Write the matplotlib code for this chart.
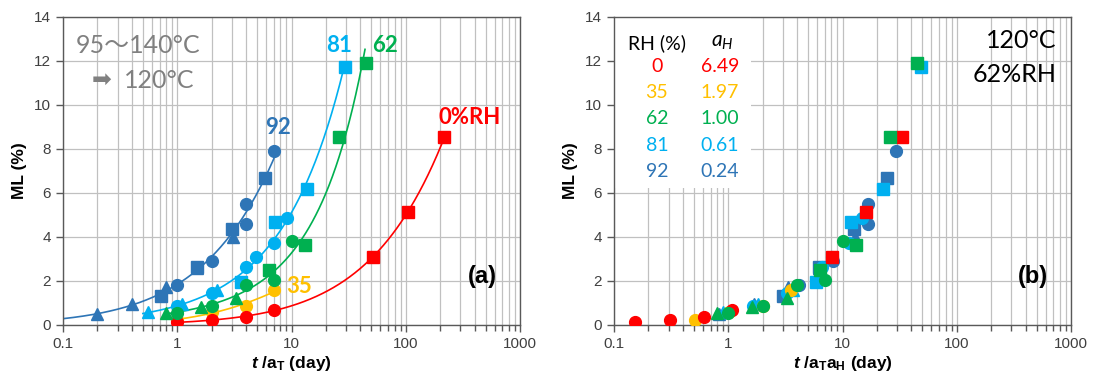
import numpy as np
import matplotlib
matplotlib.use('Agg')
import matplotlib.pyplot as plt
from matplotlib.patches import Rectangle
from matplotlib.ticker import FixedLocator, FixedFormatter, NullFormatter

plt.rcParams['font.family'] = ['Liberation Sans', 'DejaVu Sans']
plt.rcParams['mathtext.fontset'] = 'custom'
plt.rcParams['mathtext.rm'] = 'Liberation Sans:bold'
plt.rcParams['mathtext.bf'] = 'Liberation Sans:bold'
plt.rcParams['mathtext.it'] = 'Lato:italic'
plt.rcParams['mathtext.bfit'] = 'Liberation Sans:italic:bold'

# ---------------- data ----------------
rh_levels = ['0', '35', '62', '81', '92']
a_H = [6.49, 1.97, 1.00, 0.61, 0.24]
a_H_labels = ['6.49', '1.97', '1.00', '0.61', '0.24']
series_colors = ['#FF0000', '#FFC000', '#00B050', '#00B0F0', '#2E75B6']

# RH 0 %
rh0_circ_t = [1, 2, 4, 7]
rh0_circ_ml = [0.12, 0.22, 0.38, 0.70]
rh0_sq_t = [52, 104, 217]
rh0_sq_ml = [3.07, 5.12, 8.56]
# RH 35 %
rh35_circ_t = [1, 2, 4, 7]
rh35_circ_ml = [0.25, 0.60, 0.88, 1.58]
# RH 62 %
rh62_tri_t = [0.8, 1.6, 3.3]
rh62_tri_ml = [0.56, 0.80, 1.22]
rh62_circ_t = [1, 2, 4, 7, 10]
rh62_circ_ml = [0.55, 0.86, 1.82, 2.05, 3.80]
rh62_sq_t = [6.4, 13, 26, 45]
rh62_sq_ml = [2.50, 3.65, 8.53, 11.92]
# RH 81 %
rh81_tri_t = [0.55, 1.1, 2.25]
rh81_tri_ml = [0.58, 0.95, 1.60]
rh81_circ_t = [1, 2, 4, 4.9, 7, 9.1]
rh81_circ_ml = [0.86, 1.44, 2.65, 3.10, 3.74, 4.85]
rh81_sq_t = [3.6, 7.2, 13.8, 29.5]
rh81_sq_ml = [1.97, 4.70, 6.20, 11.74]
# RH 92 %
rh92_tri_t = [0.2, 0.4, 0.8, 1.5, 3.1]
rh92_tri_ml = [0.50, 0.95, 1.72, 2.60, 4.00]
rh92_circ_t = [1, 2, 4, 4, 7]
rh92_circ_ml = [1.82, 2.90, 4.60, 5.50, 7.90]
rh92_sq_t = [0.72, 1.5, 3.0, 5.9]
rh92_sq_ml = [1.30, 2.62, 4.35, 6.70]

# fitted-curve extent (t/aT, day) for each RH series
curve_start = [1, 1, 0.8, 0.5, 0.1]
curve_end = [217, 7, 44, 29.5, 7]

series = [
    {'o': (rh0_circ_t, rh0_circ_ml), 's': (rh0_sq_t, rh0_sq_ml)},
    {'o': (rh35_circ_t, rh35_circ_ml)},
    {'^': (rh62_tri_t, rh62_tri_ml), 'o': (rh62_circ_t, rh62_circ_ml), 's': (rh62_sq_t, rh62_sq_ml)},
    {'^': (rh81_tri_t, rh81_tri_ml), 'o': (rh81_circ_t, rh81_circ_ml), 's': (rh81_sq_t, rh81_sq_ml)},
    {'^': (rh92_tri_t, rh92_tri_ml), 'o': (rh92_circ_t, rh92_circ_ml), 's': (rh92_sq_t, rh92_sq_ml)},
]

x_ticks = [0.1, 1, 10, 100, 1000]
x_tick_labels = ['0.1', '1', '10', '100', '1000']
y_ticks = [0, 2, 4, 6, 8, 10, 12, 14]

# ---------------- figure ----------------
W, H = 1093, 378
fig = plt.figure(figsize=(W / 100, H / 100), dpi=100)
axL = fig.add_axes([63 / W, (H - 325) / H, 457 / W, 308 / H])
axR = fig.add_axes([614 / W, (H - 325) / H, 457 / W, 308 / H])

tick_color = '#595959'
minor_locs = [m * 10.0 ** e for e in range(-1, 3) for m in range(2, 10)]


def style_axes(ax):
    ax.set_xscale('log')
    ax.set_xlim(0.1, 1000)
    ax.set_ylim(0, 14)
    ax.xaxis.set_major_locator(FixedLocator(x_ticks))
    ax.xaxis.set_major_formatter(FixedFormatter(x_tick_labels))
    ax.xaxis.set_minor_locator(FixedLocator(minor_locs))
    ax.xaxis.set_minor_formatter(NullFormatter())
    ax.set_yticks(y_ticks)
    ax.set_yticklabels([str(v) for v in y_ticks])
    ax.grid(True, which='major', axis='both', color='#C0C0C0', lw=0.9)
    ax.grid(True, which='minor', axis='x', color='#C0C0C0', lw=0.9)
    ax.tick_params(which='major', direction='out', length=5, width=1, color=tick_color,
                   labelsize=11, labelcolor='#404040')
    ax.tick_params(which='minor', direction='out', length=4, width=1, color=tick_color)
    for sp in ax.spines.values():
        sp.set_color(tick_color)
        sp.set_linewidth(1.0)
    ax.set_ylabel('ML (%)', fontsize=12.5, fontweight='bold', labelpad=5)


style_axes(axL)
style_axes(axR)

ms = 8.5
draw_order = [4, 3, 1, 0, 2]

# left: data + fitted curves
for i in draw_order:
    col = series_colors[i]
    all_t = np.concatenate([np.asarray(v[0], float) for v in series[i].values()])
    all_y = np.concatenate([np.asarray(v[1], float) for v in series[i].values()])
    coef = np.polyfit(np.log(all_t), np.log(all_y), 2)
    tt = np.geomspace(curve_start[i], curve_end[i], 300)
    axL.plot(tt, np.exp(np.polyval(coef, np.log(tt))), color=col, lw=1.2, zorder=2)
for i in draw_order:
    col = series_colors[i]
    for mk, (t, y) in series[i].items():
        axL.plot(t, y, linestyle='none', marker=mk, ms=ms, color=col, mec=col, zorder=3)

# right: shifted data
for i in draw_order:
    col = series_colors[i]
    for mk, (t, y) in series[i].items():
        axR.plot(np.asarray(t, float) / a_H[i], y, linestyle='none', marker=mk, ms=ms,
                 color=col, mec=col, zorder=3)

axL.set_xlabel(r'$\mathbfit{t}$ /a$_\mathbf{T}$ (day)', fontsize=12.5, fontweight='bold', labelpad=2)
axR.set_xlabel(r'$\mathbfit{t}$ /a$_\mathbf{T}$a$_\mathbf{H}$ (day)', fontsize=12.5, fontweight='bold', labelpad=2)

txt_font = ['Lato', 'Noto Sans CJK JP', 'DejaVu Sans']

# left annotations
axL.text(0.028, 0.909, '95～140°C', transform=axL.transAxes, fontsize=18, color='#808080',
         family=txt_font, ha='left', va='center')
axL.text(0.063, 0.795, '➡', transform=axL.transAxes, fontsize=17, color='#808080',
         family=['DejaVu Sans'], ha='left', va='center')
axL.text(0.133, 0.795, '120°C', transform=axL.transAxes, fontsize=18, color='#808080',
         family=txt_font, ha='left', va='center')

label_pos = [(365, 9.45), (11.6, 1.73), (66, 12.7), (26, 12.7), (7.6, 9.0)]
label_txt = ['0%RH', '35', '62', '81', '92']
for i in range(5):
    axL.text(label_pos[i][0], label_pos[i][1], label_txt[i], color=series_colors[i],
             fontsize=16, fontweight='bold', family=txt_font, ha='center', va='center', zorder=4)

axL.text(0.917, 0.156, '(a)', transform=axL.transAxes, fontsize=17, fontweight='bold',
         ha='center', va='center')
axR.text(0.917, 0.156, '(b)', transform=axR.transAxes, fontsize=17, fontweight='bold',
         ha='center', va='center')

# right annotations
axR.text(0.969, 0.925, '120°C', transform=axR.transAxes, fontsize=18, color='black',
         family=txt_font, ha='right', va='center')
axR.text(0.969, 0.812, '62%RH', transform=axR.transAxes, fontsize=18, color='black',
         family=txt_font, ha='right', va='center')

axR.add_patch(Rectangle((0.0, 0.445), 0.30, 0.555, transform=axR.transAxes,
                        facecolor='white', edgecolor='none', zorder=1.8))
axR.text(0.094, 0.916, 'RH (%)', transform=axR.transAxes, fontsize=14, family=txt_font,
         ha='center', va='center', zorder=4)
axR.text(0.236, 0.916, r'$a_H$', transform=axR.transAxes, fontsize=15,
         ha='center', va='center', zorder=4)
row_y = [0.838, 0.756, 0.672, 0.584, 0.497]
for i in range(5):
    axR.text(0.094, row_y[i], rh_levels[i], transform=axR.transAxes, fontsize=14,
             family=txt_font, color=series_colors[i], ha='center', va='center', zorder=4)
    axR.text(0.232, row_y[i], a_H_labels[i], transform=axR.transAxes, fontsize=14,
             family=txt_font, color=series_colors[i], ha='center', va='center', zorder=4)

fig.savefig('out.png', dpi=100)
